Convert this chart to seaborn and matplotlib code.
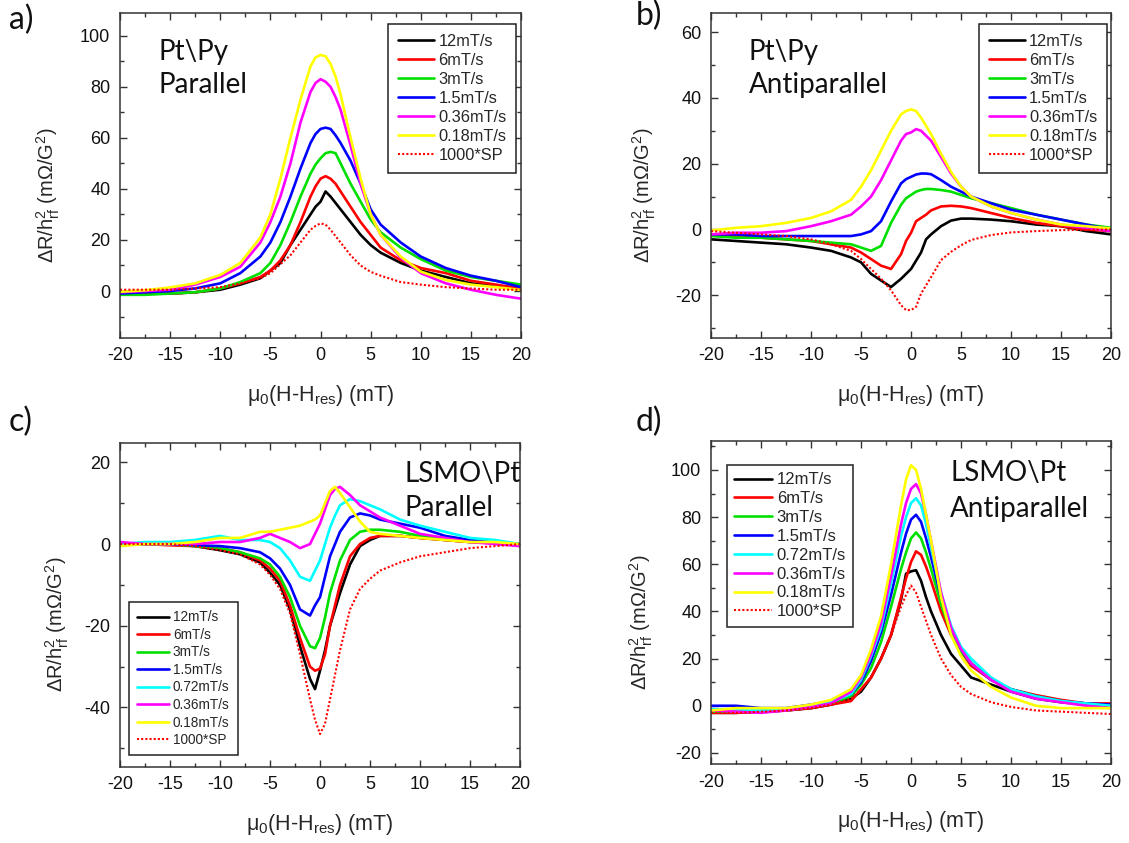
import matplotlib
matplotlib.use('Agg')
import matplotlib.pyplot as plt
from matplotlib.ticker import MultipleLocator
import seaborn as sns

# Campo relativo a la resonancia (mT), grilla comun para todas las curvas
campo = [-20, -17.5, -15, -12.5, -10, -8, -6, -5, -4, -3, -2, -1, -0.5, 0,
         0.5, 1, 1.5, 2, 3, 4, 5, 6, 8, 10, 12.5, 15, 17.5, 20]

# a) Pt\Py paralelo
a_12 = [-1, -1, -1, -0.5, 0.5, 2.5, 5, 8, 11, 18, 24, 30, 33, 35,
        39, 37, 34.5, 32, 27, 22, 18, 15, 11, 8, 5.5, 3, 2, 1]
a_6 = [-1, -1, -1, -0.5, 1, 3, 5.5, 8, 12, 18, 27, 37, 41, 44,
       45, 44, 42, 39, 33, 27, 22, 17, 12, 9, 7, 4, 2.5, 1]
a_3 = [-1.5, -1.5, -1, -0.5, 1, 3.5, 7, 11, 18, 27, 37, 46, 49.5, 52,
       54, 54.5, 54, 50, 42, 35, 28, 23, 17, 12.5, 8, 5.5, 4, 2.5]
a_15 = [-1, -0.5, 0, 1, 3, 7, 13.5, 19, 27, 37, 48, 58, 61.5, 63.5,
        64, 63.5, 61, 58, 51, 42, 32, 26, 19, 13.5, 9, 6, 4, 1.5]
a_036 = [-0.5, 0, 0.5, 2.5, 5.5, 9.5, 19, 27, 37, 50, 66, 78, 81.5, 83,
         82, 80, 76, 71, 57, 42, 30, 22, 13, 7, 3, 0.5, -1.5, -3]
a_018 = [-0.3, 0.3, 1.4, 3, 6.3, 11, 21, 30, 44, 60, 75, 88, 91.5, 92.5,
         92, 89, 84, 77, 60, 44, 30, 22, 13.5, 7.6, 4.3, 2.5, 1.5, 0.4]
a_sp = [0.5, 0.5, 0.5, 1, 1.5, 3, 5, 7, 10.5, 14, 19, 24, 25.5, 26.5,
        26, 24, 21.5, 19, 14, 10, 7.5, 6, 3.5, 2.5, 1.5, 1, 0.5, 0.5]

# b) Pt\Py antiparalelo
b_12 = [-3, -3.5, -4, -4.5, -5.5, -6.5, -8.5, -10, -13.5, -15.5, -17.5, -15, -13.5, -12,
        -9.5, -7, -3, -1.5, 1, 2.7, 3.3, 3.3, 3, 2.5, 1.5, 1, -0.5, -1.5]
b_6 = [-1.5, -2, -2.5, -3, -3.5, -4.5, -5.5, -7, -9, -11, -12, -7.5, -3.5, -1,
       2.5, 3.5, 4.5, 5.8, 7, 7.2, 7, 6.5, 5, 3.5, 2, 1, 0, -0.5]
b_3 = [-2, -2.5, -2.5, -3, -3.5, -4, -4.5, -5.5, -6.5, -5, 2, 7.5, 9.5, 10.5,
       11.5, 12, 12.3, 12.3, 12, 11.5, 10.5, 9.5, 8, 6.5, 4.5, 3, 1.5, 0.5]
b_15 = [-1.5, -1.5, -2, -2, -2, -2, -2, -1.5, -0.5, 2.5, 8.5, 14, 15.3, 16,
        16.7, 17, 17, 16.8, 15, 13, 11.5, 10, 8, 6, 4.5, 3, 1.5, 0]
b_036 = [-1.5, -1, -1, -0.5, 1, 2.5, 4.5, 7, 10, 15, 21, 27, 29, 29.5,
         30.5, 30, 28.5, 27, 22, 17, 13, 10, 7, 5, 3, 1.5, 0.5, -0.5]
b_018 = [-0.3, 0.5, 1, 2, 3.5, 5.5, 9, 13, 18, 24, 30, 35, 36, 36.5,
         36, 34, 31.5, 29, 23, 17.5, 13, 10, 7, 5, 3, 1.5, 1, 0.3]
b_sp = [-0.5, -1, -1.5, -2, -3, -4.5, -6.5, -9, -12, -15, -18.5, -23, -24.5, -24.5,
        -23.5, -19.5, -17, -14.5, -9.3, -6.8, -4.8, -3.2, -1.7, -0.9, -0.5, -0.2, -0.1, 0]

# c) LSMO\Pt paralelo
c_12 = [0, 0, 0, -0.5, -1.5, -2.5, -4.5, -7, -10, -16, -25, -33, -35.5, -31,
        -26, -20, -16, -12, -5, -0.5, 1, 2, 2, 1.5, 1, 0.5, 0.3, 0]
c_6 = [0, 0, -0.3, -0.5, -1, -2, -4, -6, -9, -15, -23, -30, -31, -30.5,
       -27, -20, -15, -10, -3, 0, 1.5, 2, 2, 1.5, 1, 0.5, 0.3, 0]
c_3 = [0, 0, 0, -0.5, -1, -2, -3.5, -5, -8, -13, -20, -25, -25.5, -23,
       -18, -12, -8, -4, 1, 3, 3.5, 3.5, 3, 2, 1.5, 1, 0.5, -0.5]
c_15 = [0, 0, 0, -0.3, -0.5, -1, -2, -3.5, -6, -10, -16, -17.5, -15, -13,
        -8, -3, 0, 3, 6.5, 7.5, 7, 6, 5, 4, 2, 1, 0.3, 0]
c_072 = [0, 0.5, 0.5, 1, 2, 1, 1, 0.5, -1, -4, -8, -9, -6.5, -4,
         0, 4, 7, 9.5, 11, 10.5, 9.5, 8.5, 6, 4.5, 3, 1.5, 1, 0]
c_036 = [0.5, 0, 0, 0, 0.5, 0.5, 1.5, 2.5, 1.5, 0.5, -1, 0, 2.5, 5,
         8.5, 12, 13.5, 14, 12, 9.5, 8, 6.5, 4.5, 2.5, 1.5, 0.5, 0, -0.5]
c_018 = [-0.5, 0, 0, 0.5, 1.5, 1.5, 3, 3, 3.5, 4, 4.5, 5.5, 6, 7,
         10, 13, 14, 12.5, 9, 5.5, 3, 2.5, 2, 1.5, 1, 0.5, 0.5, 0]
c_sp = [0, 0, 0, -0.5, -1.5, -2.5, -5, -7.5, -11, -17, -27, -38, -43, -46.5,
        -44, -38, -32, -26, -16, -11, -8.5, -6.5, -4.5, -3, -2, -1, -0.5, 0]

# d) LSMO\Pt antiparalelo
d_12 = [-3, -3, -2.5, -2, -1, 0.5, 3, 6, 12, 20, 30, 45, 56, 57,
        57.5, 53, 46, 40, 30, 22, 17, 12, 9, 6, 3, 1.5, 0.5, 0]
d_6 = [-3, -3, -2.5, -2, -1, 0.5, 2, 7, 12, 20, 30, 46, 54, 61,
       65.5, 64, 59, 53, 40, 30, 23, 17, 11, 7, 4.5, 2.5, 1, 1]
d_3 = [-2.5, -2.5, -2.5, -2, -0.5, 1, 4, 9, 16, 27, 42, 58, 65, 71,
       73.5, 71, 65, 58, 43, 31, 23, 18, 11, 7, 4, 2, 0.5, 0]
d_15 = [0, 0, -1, -1, 0.5, 2, 5, 10, 19, 31, 47, 65, 73, 79,
        81, 78, 71, 63, 46, 33, 24, 18, 11, 7, 4, 2, 1, 0.5]
d_072 = [-1.5, -1.5, -2, -1.5, 0, 1.5, 5, 11, 21, 33, 52, 72, 80, 86,
         88, 85, 77, 67, 48, 34, 25, 20, 12, 7, 4, 2, 1, 0]
d_036 = [-2, -2.5, -3, -2, -0.5, 1, 6, 12, 22, 35, 55, 77, 86, 92,
         94, 90, 81, 70, 48, 33, 24, 18, 11, 6, 3, 1.5, 0, -1]
d_018 = [-2, -1, -1, -1, 0.5, 2.5, 7, 13, 24, 38, 60, 85, 96, 102,
         100, 92, 81, 70, 46, 30, 21, 15, 8, 3.5, 0, -1, -1, -1]
d_sp = [-3, -3, -2.5, -2, -1, 0.5, 3, 7, 12, 20, 30, 42, 47, 51,
        48, 42, 36, 30, 20, 13, 8, 5, 1.5, -0.5, -2, -2.5, -3, -3.5]

etiquetas_a = ['12mT/s', '6mT/s', '3mT/s', '1.5mT/s', '0.36mT/s', '0.18mT/s', '1000*SP']
colores_a = ['black', 'red', '#00e000', 'blue', 'magenta', 'yellow', 'red']
etiquetas_c = ['12mT/s', '6mT/s', '3mT/s', '1.5mT/s', '0.72mT/s', '0.36mT/s', '0.18mT/s', '1000*SP']
colores_c = ['black', 'red', '#00e000', 'blue', 'cyan', 'magenta', 'yellow', 'red']

sns.set_style('ticks')
plt.rcParams['font.family'] = ['Liberation Sans', 'DejaVu Sans']
plt.rcParams['mathtext.fontset'] = 'custom'
plt.rcParams['mathtext.rm'] = 'Liberation Sans'
plt.rcParams['mathtext.it'] = 'Liberation Sans'
plt.rcParams['mathtext.default'] = 'regular'
plt.rcParams['axes.unicode_minus'] = False

TEXTO_CALIBRI = ['Lato', 'DejaVu Sans']


# dibuja un panel completo: curvas, ejes, leyenda y rotulo
def dibujarPanel(fig, pos, series, etiquetas, colores, ylim, yticks,
                 rotulo, muestra, ylab_x, leyenda):
    ax = fig.add_axes(pos)
    for serie, etiqueta, color in zip(series, etiquetas, colores):
        if etiqueta == '1000*SP':
            sns.lineplot(x=campo, y=serie, color=color, label=etiqueta, ax=ax,
                         linewidth=1.5, linestyle=(0, (1, 1)))
        else:
            sns.lineplot(x=campo, y=serie, color=color, label=etiqueta, ax=ax,
                         linewidth=1.9)

    ax.set_xlim(-20, 20)
    ax.set_ylim(*ylim)
    ax.set_xticks([-20, -15, -10, -5, 0, 5, 10, 15, 20])
    ax.set_yticks(yticks)
    ax.xaxis.set_minor_locator(MultipleLocator(2.5))
    ax.yaxis.set_minor_locator(MultipleLocator(10))
    ax.tick_params(which='both', direction='in', top=True, right=True,
                   width=1, labelsize=13, pad=7, colors='#333333', labelcolor='#111111')
    ax.tick_params(which='major', length=5)
    ax.tick_params(which='minor', length=3)
    for sp in ax.spines.values():
        sp.set_linewidth(1.1)
        sp.set_color('#333333')

    ax.set_xlabel(r'$\mu_0$(H-H$_{res}$) (mT)', fontsize=15.5, va='top')
    ax.xaxis.set_label_coords(0.5, -0.14)
    ax.set_ylabel(r'$\Delta$R/h$^2_{rf}$ (m$\Omega$/G$^2$)', fontsize=14.5, va='center')
    ax.yaxis.set_label_coords(ylab_x, 0.44)

    leg = ax.legend(loc='upper left', bbox_to_anchor=leyenda['ancla'],
                    fontsize=leyenda['size'], frameon=True, fancybox=False,
                    edgecolor='#222222', framealpha=1,
                    handlelength=leyenda['hl'], handletextpad=0.25,
                    labelspacing=leyenda['ls'], borderpad=leyenda['bp'], borderaxespad=0)
    leg.get_frame().set_linewidth(1.1)

    for texto, (tx, ty) in muestra:
        ax.text(tx, ty, texto, transform=ax.transAxes, fontsize=20,
                family=TEXTO_CALIBRI, va='center', ha='left', color='#111111')
    fig.text(rotulo[1], rotulo[2], rotulo[0], fontsize=23,
             family=TEXTO_CALIBRI, va='top', ha='left', color='#111111')
    return ax


fig = plt.figure(figsize=(11.29, 8.43), dpi=100)

dibujarPanel(fig, [0.1063, 0.5994, 0.3552, 0.3848],
             [a_12, a_6, a_3, a_15, a_036, a_018, a_sp], etiquetas_a, colores_a,
             (-18.3, 108.8), [0, 20, 40, 60, 80, 100], ('a)', 0.008, 0.994),
             [('Pt\\Py', (0.097, 0.88)), ('Parallel', (0.097, 0.78))], -0.179,
             {'ancla': (0.669, 0.966), 'size': 11.8, 'hl': 2.2, 'ls': 0.24, 'bp': 0.6})

dibujarPanel(fig, [0.6298, 0.5994, 0.3543, 0.3848],
             [b_12, b_6, b_3, b_15, b_036, b_018, b_sp], etiquetas_a, colores_a,
             (-32.9, 65.7), [-20, 0, 20, 40, 60], ('b)', 0.563, 0.999),
             [('Pt\\Py', (0.094, 0.88)), ('Antiparallel', (0.094, 0.78))], -0.168,
             {'ancla': (0.670, 0.966), 'size': 11.8, 'hl': 2.2, 'ls': 0.24, 'bp': 0.6})

dibujarPanel(fig, [0.1063, 0.0905, 0.3543, 0.3843],
             [c_12, c_6, c_3, c_15, c_072, c_036, c_018, c_sp], etiquetas_c, colores_c,
             (-54.5, 24.8), [-40, -20, 0, 20], ('c)', 0.008, 0.517),
             [('LSMO\\Pt', (0.712, 0.905)), ('Parallel', (0.712, 0.80))], -0.157,
             {'ancla': (0.0215, 0.508), 'size': 9.8, 'hl': 2.4, 'ls': 0.26, 'bp': 0.6})

dibujarPanel(fig, [0.6298, 0.0937, 0.3543, 0.3832],
             [d_12, d_6, d_3, d_15, d_072, d_036, d_018, d_sp], etiquetas_c, colores_c,
             (-24.7, 112.3), [-20, 0, 20, 40, 60, 80, 100], ('d)', 0.563, 0.517),
             [('LSMO\\Pt', (0.598, 0.90)), ('Antiparallel', (0.598, 0.79))], -0.1745,
             {'ancla': (0.039, 0.926), 'size': 12, 'hl': 2.3, 'ls': 0.23, 'bp': 0.45})

fig.savefig('out.png', dpi=100)
